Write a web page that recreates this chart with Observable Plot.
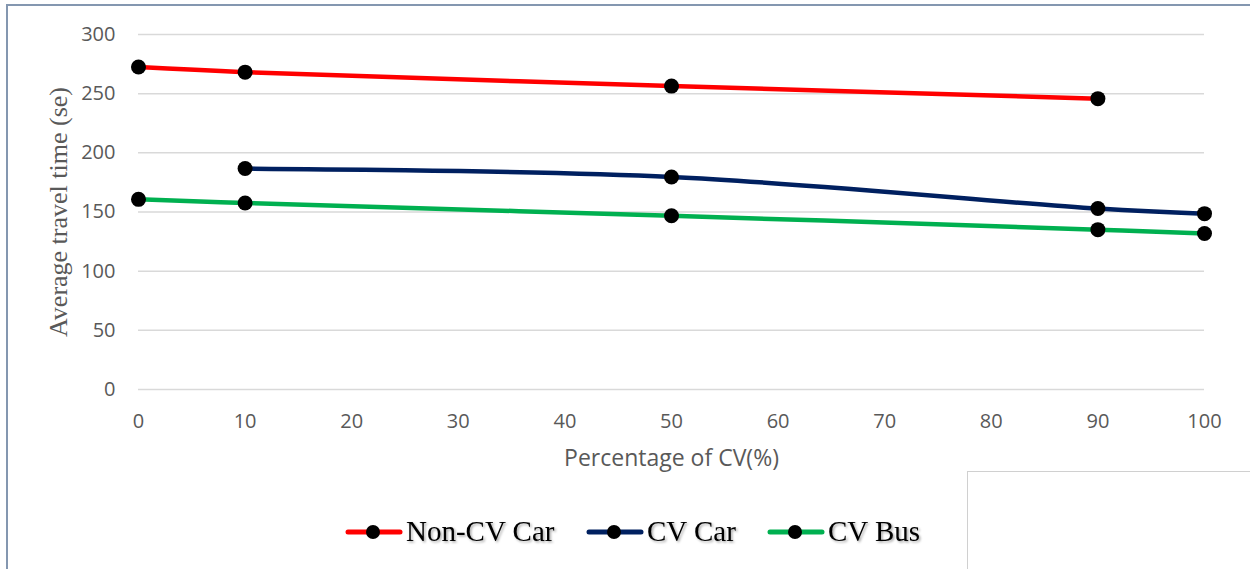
<!DOCTYPE html>
<html>
<head>
<meta charset="utf-8">
<script src="https://cdn.jsdelivr.net/npm/d3@7"></script>
<script src="https://cdn.jsdelivr.net/npm/@observablehq/plot@0.6"></script>
<style>
  html, body { margin: 0; padding: 0; background: #fff; }
  #wrap { position: relative; width: 1250px; height: 569px; overflow: hidden; background: #fff; }
  #chart { position: absolute; left: 0; top: 0; }
  #legend { position: absolute; left: 0; top: 470px; }
  .frameL { position: absolute; left: 6px; top: 4px; width: 2px; height: 580px; background: #8497b0; }
  .frameT { position: absolute; left: 6px; top: 4px; width: 1260px; height: 2px; background: #8497b0; }
  .box { position: absolute; left: 967px; top: 471px; width: 300px; height: 120px; background: #fff;
         border-top: 1px solid #d0d0d0; border-left: 1px solid #d0d0d0; }
</style>
</head>
<body>
<div id="wrap">
  <div class="frameL"></div>
  <div class="frameT"></div>
  <div id="chart"></div>
  <svg id="legend" width="960" height="99"></svg>
  <div class="box"></div>
</div>
<script>
// ---- data ----
const seriesNames = ["Non-CV Car", "CV Car", "CV Bus"];
const seriesColors = ["#ff0000", "#002060", "#00b050"];

const nonCvPct  = [0, 10, 50, 90];
const nonCvTime = [272.5, 268.2, 256.4, 245.8];

const cvCarPct  = [10, 50, 90, 100];
const cvCarTime = [186.7, 179.6, 152.9, 148.6];

const cvBusPct  = [0, 10, 50, 90, 100];
const cvBusTime = [160.7, 157.6, 146.8, 135.1, 131.8];

const xTicks = [0, 10, 20, 30, 40, 50, 60, 70, 80, 90, 100];
const yTicks = [0, 50, 100, 150, 200, 250, 300];

const xTitle = "Percentage of CV(%)";
const yTitle = "Average travel time (se)";

// ---- table ----
const rows = [];
[[nonCvPct, nonCvTime], [cvCarPct, cvCarTime], [cvBusPct, cvBusTime]].forEach(([p, t], i) => {
  p.forEach((v, j) => rows.push({series: seriesNames[i], pct: v, time: t[j]}));
});

const gray = "#595959";
const chart = Plot.plot({
  width: 1250,
  height: 470,
  marginTop: 34,
  marginBottom: 81,
  marginLeft: 138,
  marginRight: 46,
  style: {fontFamily: "'Open Sans', sans-serif", fontSize: "20px", color: gray, background: "transparent", overflow: "visible"},
  x: {domain: [0, 100]},
  y: {domain: [0, 300]},
  color: {domain: seriesNames, range: seriesColors},
  marks: [
    Plot.gridY(yTicks, {stroke: "#d9d9d9", strokeOpacity: 1, strokeWidth: 1.5}),
    Plot.axisY(yTicks, {tickSize: 0, tickPadding: 23, label: null, fill: gray, fontSize: 20}),
    Plot.axisX(xTicks, {tickSize: 0, tickPadding: 24, label: null, fill: gray, fontSize: 20}),
    Plot.line(rows, {x: "pct", y: "time", z: "series", stroke: "series", strokeWidth: 4.5, curve: "catmull-rom"}),
    Plot.dot(rows, {x: "pct", y: "time", r: 7.5, fill: "black", stroke: null}),
    Plot.text([yTitle], {text: d => d, frameAnchor: "left", rotate: -90, dx: -80, lineAnchor: "middle", textAnchor: "middle",
      fontFamily: "'Liberation Serif', 'Times New Roman', serif", fontSize: 26, fill: gray}),
    Plot.text([xTitle], {text: d => d, frameAnchor: "bottom", dy: 69, lineAnchor: "middle", textAnchor: "middle",
      fontFamily: "'Open Sans', sans-serif", fontSize: 23, fill: gray})
  ]
});
document.getElementById("chart").appendChild(chart);

// ---- legend ----
const legendX = [346, 587, 768]; // start of each legend line
const leg = d3.select("#legend");
const defs = leg.append("defs");
defs.append("filter").attr("id", "sh").attr("x", "-10%").attr("y", "-30%").attr("width", "130%").attr("height", "160%")
  .append("feDropShadow").attr("dx", 1.5).attr("dy", 1.5).attr("stdDeviation", 1.2)
  .attr("flood-color", "#000").attr("flood-opacity", 0.35);
const ly = 62; // legend row centre
seriesNames.forEach((name, i) => {
  const x0 = legendX[i];
  const g = leg.append("g");
  g.append("line").attr("x1", x0 + 2).attr("x2", x0 + 54).attr("y1", ly).attr("y2", ly)
    .attr("stroke", seriesColors[i]).attr("stroke-width", 5).attr("stroke-linecap", "round");
  g.append("circle").attr("cx", x0 + 27).attr("cy", ly).attr("r", 7).attr("fill", "black");
  g.append("text").attr("x", x0 + 60).attr("y", 71).text(name)
    .attr("font-family", "'Liberation Serif', 'Times New Roman', serif").attr("font-size", 29)
    .attr("fill", "#000").attr("filter", "url(#sh)");
});
</script>
</body>
</html>
